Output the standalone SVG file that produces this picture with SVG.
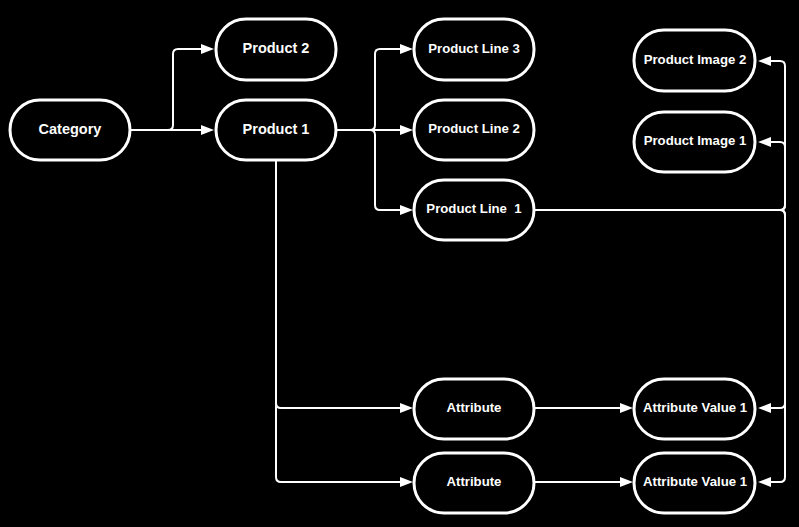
<svg xmlns="http://www.w3.org/2000/svg" width="799" height="527" viewBox="0 0 799 527">
<style>
.n{fill:#000;stroke:#fff;stroke-width:3}
.t{fill:#fff;font-family:"Liberation Sans",Arial,sans-serif;font-weight:bold;text-anchor:middle;dominant-baseline:central}
.l{font-size:14.5px}
.s{font-size:13.2px}
.c{fill:none;stroke:#fff;stroke-width:2}
</style>
<defs>
<marker id="ah" markerWidth="13" markerHeight="10" refX="0" refY="5" orient="auto" markerUnits="userSpaceOnUse"><path d="M0,0 L13,5 L0,10 z" fill="#fff"/></marker>
</defs>
<rect width="799" height="527" fill="#000"/>
<g id="connectors">
<path class="c" d="M131,130 H201" marker-end="url(#ah)"/>
<path class="c" d="M131,130 H168 Q173,130 173,125 V54 Q173,49 178,49 H201" marker-end="url(#ah)"/>
<path class="c" d="M337,130 H370 Q375,130 375,125 V54 Q375,49 380,49 H400" marker-end="url(#ah)"/>
<path class="c" d="M337,130 H400" marker-end="url(#ah)"/>
<path class="c" d="M337,130 H370 Q375,130 375,135 V205 Q375,210 380,210 H400" marker-end="url(#ah)"/>
<path class="c" d="M276,161 V403 Q276,408 281,408 H400" marker-end="url(#ah)"/>
<path class="c" d="M276,161 V477 Q276,482 281,482 H400" marker-end="url(#ah)"/>
<path class="c" d="M535,408 H620" marker-end="url(#ah)"/>
<path class="c" d="M535,482 H620" marker-end="url(#ah)"/>
<path class="c" d="M535,210 H780 Q785,210 785,205 V66 Q785,61 780,61 H771" marker-end="url(#ah)"/>
<path class="c" d="M535,210 H780 Q785,210 785,205 V147 Q785,142 780,142 H771" marker-end="url(#ah)"/>
<path class="c" d="M535,210 H780 Q785,210 785,215 V403 Q785,408 780,408 H771" marker-end="url(#ah)"/>
<path class="c" d="M535,210 H780 Q785,210 785,215 V477 Q785,482 780,482 H771" marker-end="url(#ah)"/>
</g>
<g id="category"><rect class="n" x="10" y="100" width="120" height="60" rx="30"/><text class="t l" x="70" y="128.5">Category</text></g>
<g id="product2"><rect class="n" x="216" y="19" width="120" height="61" rx="30"/><text class="t l" x="276" y="48">Product 2</text></g>
<g id="product1"><rect class="n" x="216" y="100" width="120" height="60" rx="30"/><text class="t l" x="276" y="128.5">Product 1</text></g>
<g id="productline3"><rect class="n" x="414" y="19" width="120" height="61" rx="30"/><text class="t s" x="474" y="48">Product Line 3</text></g>
<g id="productline2"><rect class="n" x="414" y="100" width="120" height="60" rx="30"/><text class="t s" x="474" y="128.5">Product Line 2</text></g>
<g id="productline1"><rect class="n" x="414" y="180" width="120" height="60" rx="30"/><text class="t s" x="474" y="208.5" style="white-space:pre">Product Line  1</text></g>
<g id="productimage2"><rect class="n" x="634" y="30" width="121" height="61" rx="30"/><text class="t s" x="695" y="59">Product Image 2</text></g>
<g id="productimage1"><rect class="n" x="634" y="112" width="121" height="60" rx="30"/><text class="t s" x="695" y="140.5">Product Image 1</text></g>
<g id="attribute1"><rect class="n" x="414" y="379" width="120" height="60" rx="30"/><text class="t s" x="474" y="407.5">Attribute</text></g>
<g id="attribute2"><rect class="n" x="414" y="453" width="120" height="60" rx="30"/><text class="t s" x="474" y="481.5">Attribute</text></g>
<g id="attrvalue1"><rect class="n" x="634" y="379" width="121" height="60" rx="30"/><text class="t s" x="695" y="407.5">Attribute Value 1</text></g>
<g id="attrvalue2"><rect class="n" x="634" y="453" width="121" height="60" rx="30"/><text class="t s" x="695" y="481.5">Attribute Value 1</text></g>
</svg>
